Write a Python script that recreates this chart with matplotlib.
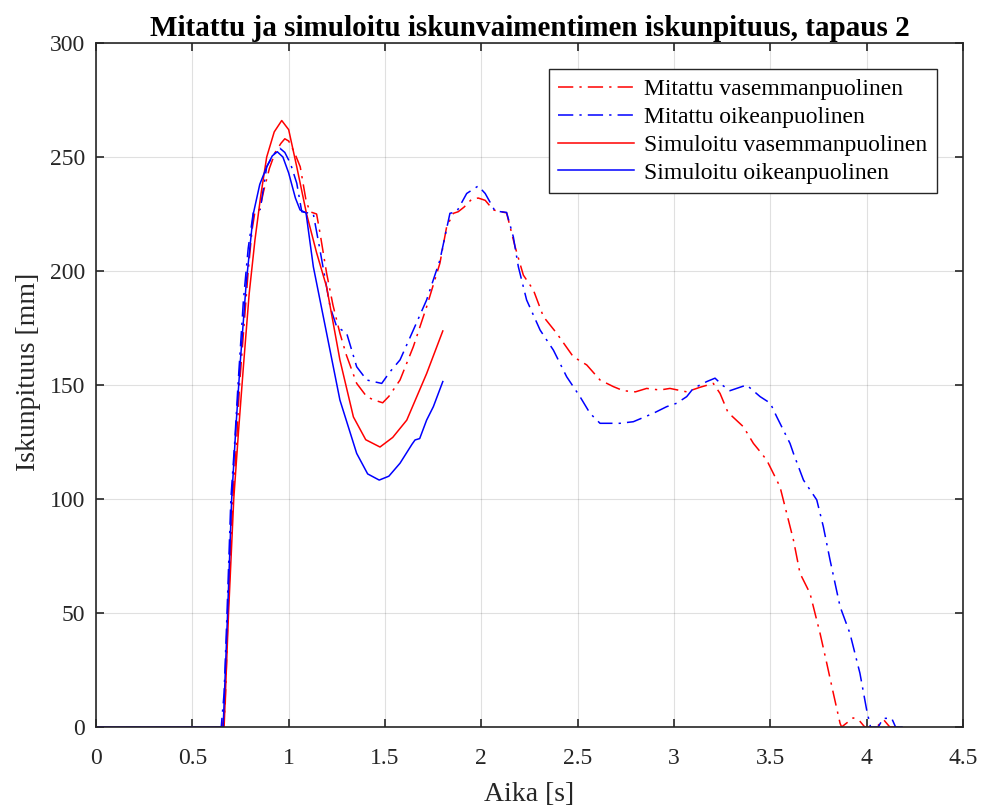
import numpy as np
import matplotlib
matplotlib.use('Agg')
import matplotlib.pyplot as plt

plt.rcParams['font.family'] = ['Liberation Serif', 'DejaVu Serif']

# Mitattu vasemmanpuolinen (punainen, pistekatkoviiva)
t_mit_vas = [0, 0.655, 0.67, 0.685, 0.70, 0.71, 0.73, 0.745, 0.77, 0.79, 0.81, 0.825, 0.85, 0.87,
             0.90, 0.93, 0.96, 0.98, 1.00, 1.03, 1.06, 1.09, 1.11, 1.145, 1.163, 1.197, 1.23, 1.266,
             1.30, 1.353, 1.405, 1.44, 1.488, 1.52, 1.578, 1.647, 1.716, 1.751, 1.785, 1.82, 1.855,
             1.88, 1.91, 1.95, 1.984, 2.02, 2.062, 2.10, 2.131, 2.175, 2.218, 2.27, 2.322, 2.391,
             2.477, 2.547, 2.616, 2.685, 2.737, 2.80, 2.858, 2.927, 2.979, 3.066, 3.135, 3.204,
             3.239, 3.28, 3.36, 3.412, 3.44, 3.481, 3.55, 3.585, 3.62, 3.654, 3.706, 3.758, 3.793,
             3.827, 3.862, 3.87, 3.90, 3.93, 3.96, 3.99, 4.05, 4.09, 4.12, 4.15]
y_mit_vas = [0, 0, 8, 50, 80, 100, 125, 150, 178, 200, 218, 226, 227, 235,
             245, 252, 256, 258, 257, 252, 245.7, 231, 226, 225, 216.5, 199, 185, 172.7,
             163, 150.7, 144.9, 143.5, 142.2, 145, 152.2, 166.8, 184.3, 194, 203.4, 219.4, 225.3,
             226, 228, 231.5, 232, 231, 226.8, 226, 225.5, 210.7, 198.2, 191.7, 180, 172.7,
             162.4, 158.8, 152.2, 149.3, 147.5, 147, 148.5, 147.8, 148.5, 147, 149, 150.7,
             146.3, 138, 131.7, 124.4, 121.5, 117.1, 105.4, 93.7, 82, 67.4, 58.6, 41.1, 27.9,
             14.8, 1.6, 0, 2, 4, 3, 0, 0, 3, 0, 0]

# Mitattu oikeanpuolinen (sininen, pistekatkoviiva)
t_mit_oik = [0, 0.65, 0.665, 0.68, 0.70, 0.72, 0.737, 0.765, 0.79, 0.817, 0.852, 0.886, 0.92, 0.955,
             0.98, 1.01, 1.042, 1.068, 1.128, 1.163, 1.215, 1.249, 1.301, 1.353, 1.405, 1.44, 1.483,
             1.526, 1.578, 1.647, 1.716, 1.785, 1.837, 1.872, 1.924, 1.984, 2.02, 2.071, 2.131,
             2.166, 2.192, 2.235, 2.305, 2.374, 2.443, 2.512, 2.564, 2.616, 2.72, 2.789, 2.893,
             2.962, 3.014, 3.066, 3.10, 3.17, 3.213, 3.25, 3.29, 3.377, 3.447, 3.50, 3.533, 3.602,
             3.62, 3.672, 3.741, 3.775, 3.81, 3.862, 3.913, 3.965, 4.0, 4.02, 4.06, 4.086, 4.13,
             4.15, 4.21]
y_mit_oik = [0, 0, 15, 50, 100, 125, 150, 187, 210, 226, 227, 245.7, 251, 253.8,
             252, 247, 238.5, 226, 225, 209, 184.3, 175.6, 172.7, 158, 152.2, 151.5, 150.7,
             155.8, 161, 174.1, 187.3, 204.8, 225.3, 226, 234, 237.3, 234, 226.3, 225.7,
             215, 201.9, 187.3, 174.1, 165.3, 153.6, 144.9, 137.6, 133.2, 133.2, 133.9, 137.6,
             140.5, 142, 144.9, 148.5, 151.5, 153, 150, 147.5, 150, 144.9, 142, 136.1, 124.4,
             120, 108.3, 99.6, 87.9, 73.2, 52.8, 41.1, 23.6, 7.5, 0, 0, 3.8, 3.8,
             0, 0]

# Simuloitu vasemmanpuolinen (punainen, yhtenäinen)
t_sim_vas = [0, 0.665, 0.688, 0.715, 0.74, 0.765, 0.795, 0.825, 0.855, 0.886, 0.925, 0.964, 1.00,
             1.042, 1.093, 1.145, 1.197, 1.266, 1.336, 1.40, 1.474, 1.54, 1.613, 1.716, 1.80]
y_sim_vas = [0, 0, 50, 100, 130, 158, 190, 213.6, 233, 250, 261, 266, 262,
             245.7, 225, 208, 193, 161, 136, 126, 122.8, 127, 134.6, 155, 173.7]

# Simuloitu oikeanpuolinen (sininen, yhtenäinen)
t_sim_oik = [0, 0.66, 0.683, 0.704, 0.725, 0.747, 0.78, 0.817, 0.85, 0.886, 0.915, 0.941, 0.97,
             1.00, 1.035, 1.059, 1.09, 1.128, 1.197, 1.266, 1.353, 1.41, 1.47, 1.52, 1.578, 1.64,
             1.656, 1.68, 1.716, 1.751, 1.80]
y_sim_oik = [0, 0, 50, 99.6, 130, 158, 195, 225.3, 238, 245.7, 250.5, 252.3, 250,
             243, 232, 226.8, 225.5, 201.9, 172.7, 143.4, 120, 111, 108.3, 110, 115.7, 124,
             125.9, 126.5, 134.6, 140.5, 151.5]

fig = plt.figure(figsize=(9.82, 8.07), dpi=100)
ax = fig.add_axes([96 / 982, 80 / 807, 867 / 982, 684 / 807])

dd = (10, 4, 1.5, 4)
lw = 1.1
ax.plot(t_mit_vas, y_mit_vas, color='#ff0000', lw=lw, dashes=dd, label='Mitattu vasemmanpuolinen')
ax.plot(t_mit_oik, y_mit_oik, color='#0000ff', lw=lw, dashes=dd, label='Mitattu oikeanpuolinen')
ax.plot(t_sim_vas, y_sim_vas, color='#ff0000', lw=lw, label='Simuloitu vasemmanpuolinen')
ax.plot(t_sim_oik, y_sim_oik, color='#0000ff', lw=lw, label='Simuloitu oikeanpuolinen')

ax.set_xlim(0, 4.5)
ax.set_ylim(0, 300)
ax.set_xticks(np.arange(0, 4.51, 0.5))
ax.set_xticklabels(['%g' % v for v in np.arange(0, 4.51, 0.5)])
ax.set_yticks(np.arange(0, 301, 50))
ax.tick_params(direction='in', top=True, right=True, labelsize=17, length=6, width=1.2,
               colors='#262626')
ax.tick_params(axis='x', pad=15)
ax.tick_params(axis='y', pad=8)
for s in ax.spines.values():
    s.set_color('#262626')
    s.set_linewidth(1.2)
ax.grid(True, color='#000000', alpha=0.12, lw=0.8)

ax.set_xlabel('Aika [s]', fontsize=20, color='#262626')
ax.set_ylabel('Iskunpituus [mm]', fontsize=20, color='#262626')
ax.xaxis.set_label_coords(0.5, -0.080)
ax.yaxis.set_label_coords(-0.0635, 0.519)
ax.set_title('Mitattu ja simuloitu iskunvaimentimen iskunpituus, tapaus 2',
             fontsize=21, fontweight='bold', pad=5)

leg = ax.legend(loc='upper right', bbox_to_anchor=(937 / 982, 1 - 69 / 807),
                bbox_transform=fig.transFigure, borderaxespad=0, fontsize=17,
                fancybox=False, framealpha=1, edgecolor='#262626',
                handlelength=3.2, labelspacing=0.27, borderpad=0.4, handletextpad=0.45)
leg.get_frame().set_linewidth(1.0)

fig.savefig('out.png', dpi=100)
